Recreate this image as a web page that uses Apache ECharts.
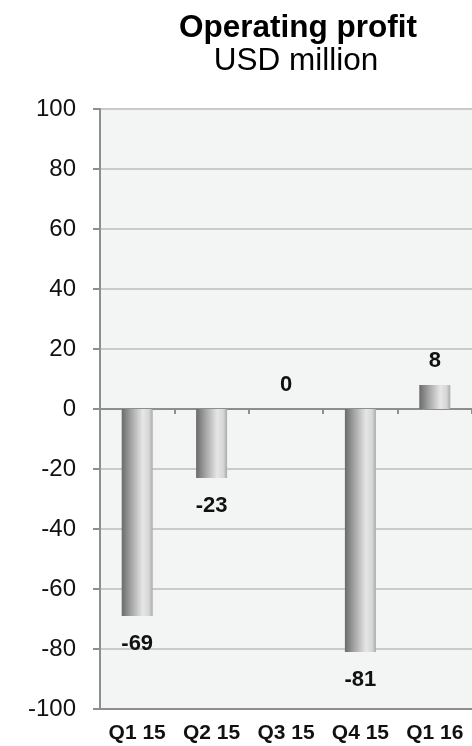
<!DOCTYPE html>
<html>
<head>
<meta charset="utf-8">
<script src="https://cdn.jsdelivr.net/npm/echarts@6/dist/echarts.min.js"></script>
<style>
  html, body { margin: 0; padding: 0; background: #ffffff; }
  #chart { width: 472px; height: 746px; }
</style>
</head>
<body>
<div id="chart"></div>
<script>
// Quarterly operating profit, USD million
const categories = ['Q1 15', 'Q2 15', 'Q3 15', 'Q4 15', 'Q1 16'];
const profitValues = [-69, -23, 0, -81, 8];
const yTicks = { min: -100, max: 100, interval: 20 };

const FONT = 'Liberation Sans, Arial, Helvetica, sans-serif';

const chart = echarts.init(document.getElementById('chart'));

// Cylinder-like shading across each bar
const barFill = new echarts.graphic.LinearGradient(0, 0, 1, 0, [
  { offset: 0, color: '#6a6a6a' },
  { offset: 0.3, color: '#a4a4a4' },
  { offset: 0.68, color: '#e6e6e6' },
  { offset: 0.88, color: '#d6d6d6' },
  { offset: 1, color: '#a9a9a9' }
]);

// Losses are labelled below the bar, the rest above it
const barData = profitValues.map(v => ({
  value: v,
  label: v < 0 ? { position: 'bottom', distance: 17 } : { position: 'top', distance: 13 }
}));

chart.setOption({
  animation: false,
  backgroundColor: '#ffffff',
  title: [
    {
      text: 'Operating profit',
      left: 293, top: 7, textAlign: 'center',
      textStyle: { fontFamily: FONT, fontSize: 31.5, fontWeight: 'bold', color: '#000' }
    },
    {
      text: 'USD million',
      left: 291, top: 40, textAlign: 'center',
      textStyle: { fontFamily: FONT, fontSize: 31.5, fontWeight: 'normal', color: '#000' }
    }
  ],
  grid: {
    left: 100, right: -3, top: 109, bottom: 37,
    show: true, backgroundColor: '#f3f5f4', borderWidth: 0
  },
  xAxis: [
    {
      type: 'category',
      data: categories,
      position: 'bottom',
      axisLine: { onZero: false, lineStyle: { color: '#8e8e8e', width: 2 } },
      axisTick: { show: false },
      axisLabel: {
        margin: 14, fontFamily: FONT, fontSize: 21, fontWeight: 'bold', color: '#111'
      },
      splitLine: { show: false }
    },
    {
      type: 'category',
      data: categories,
      position: 'bottom',
      axisLine: { onZero: true, lineStyle: { color: '#8e8e8e', width: 2 } },
      axisTick: { show: true, length: 5, lineStyle: { color: '#8e8e8e', width: 2 } },
      axisLabel: { show: false },
      splitLine: { show: false }
    }
  ],
  yAxis: {
    type: 'value',
    min: yTicks.min, max: yTicks.max, interval: yTicks.interval,
    axisLine: { show: true, lineStyle: { color: '#8e8e8e', width: 2 } },
    axisTick: { show: true, length: 7, lineStyle: { color: '#8e8e8e', width: 2 } },
    axisLabel: { margin: 24, fontFamily: FONT, fontSize: 24, color: '#111' },
    splitLine: { show: true, lineStyle: { color: '#c9cbca', width: 2 } }
  },
  series: [
    {
      type: 'bar',
      xAxisIndex: 0,
      data: barData,
      barWidth: 31,
      itemStyle: { color: barFill },
      label: {
        show: true,
        fontFamily: FONT, fontSize: 22, fontWeight: 'bold', color: '#111'
      }
    }
  ]
});
</script>
</body>
</html>
